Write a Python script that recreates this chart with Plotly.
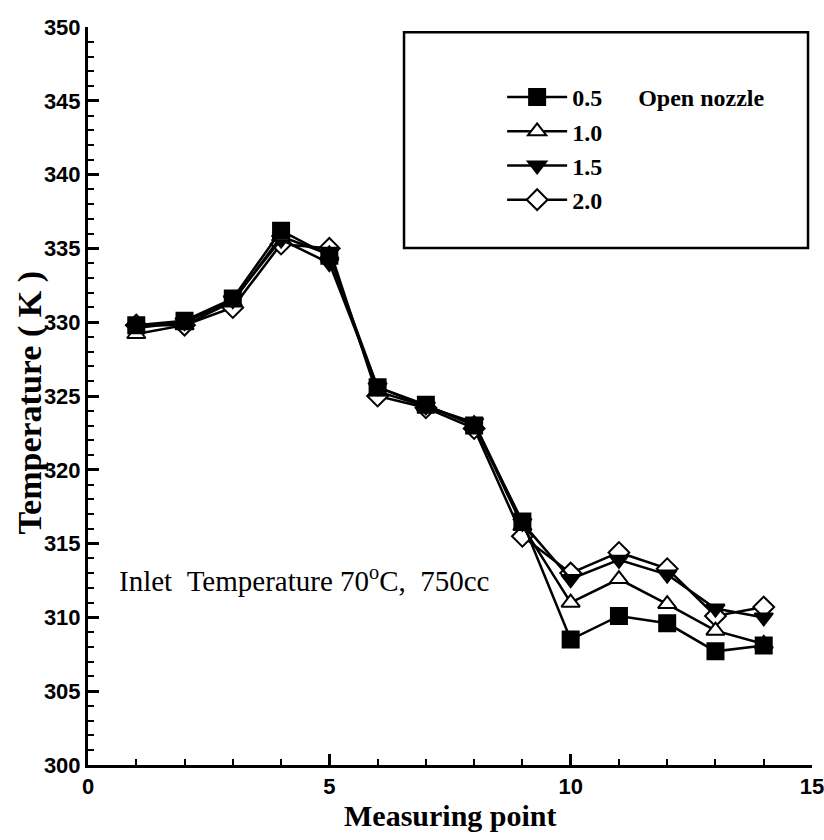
import plotly.graph_objects as go

points = list(range(1, 15))
s05 = [329.8, 330.1, 331.6, 336.2, 334.5, 325.6, 324.4, 323.0, 316.5, 308.5, 310.1, 309.6, 307.7, 308.1]
s10 = [329.2, 329.8, 331.4, 335.8, 334.6, 325.3, 324.3, 323.1, 316.2, 311.0, 312.6, 310.9, 309.1, 308.2]
s15 = [329.6, 330.0, 331.5, 335.6, 334.0, 325.6, 324.3, 323.2, 316.4, 312.6, 313.9, 312.9, 310.6, 310.0]
s20 = [329.8, 329.8, 331.0, 335.3, 335.0, 325.0, 324.2, 322.8, 315.5, 313.0, 314.4, 313.3, 310.1, 310.7]
labels = ["0.5", "1.0", "1.5", "2.0"]

series = [
    (labels[3], s20, "diamond", "white", 4),
    (labels[2], s15, "triangle-down", "black", 3),
    (labels[1], s10, "triangle-up", "white", 2),
    (labels[0], s05, "square", "black", 1),
]

fig = go.Figure()
for name, ys, sym, fill, rank in series:
    disp = name
    if name == "0.5":
        disp = "0.5&nbsp;&nbsp;&nbsp;&nbsp;&nbsp;&nbsp;Open nozzle"
    fig.add_trace(go.Scatter(
        x=points, y=ys, mode="lines+markers", name=disp,
        legendrank=rank, legendgroup=name,
        line=dict(color="black", width=2.5),
        marker=dict(symbol=sym, size=16, color=fill,
                    line=dict(color="black", width=2)),
    ))

axis_font = dict(family="Liberation Sans, Arial", size=22, color="black", weight="bold")
common = dict(showline=True, linecolor="black", linewidth=3, ticks="inside", ticklen=11,
              tickwidth=2.5, tickcolor="black", showgrid=False, zeroline=False,
              tickfont=axis_font, mirror=False, automargin=False,
              ticklabeloverflow="allow",
              minor=dict(dtick=1, ticks="inside", ticklen=6, tickwidth=2, tickcolor="black"))
fig.update_xaxes(range=[0, 15], dtick=5, tick0=0, **common)
fig.update_yaxes(range=[300, 350], dtick=5, tick0=300, **common)

fig.add_shape(type="rect", xref="paper", yref="paper",
              x0=0.4365, x1=0.9945, y0=0.7005, y1=0.993,
              line=dict(color="black", width=2.5), fillcolor="rgba(0,0,0,0)")

serif = "Liberation Serif, Times New Roman"
fig.add_annotation(text="Inlet&nbsp;&nbsp;Temperature 70<sup>o</sup>C,&nbsp;&nbsp;750cc",
                   x=0.6, y=312.6, xref="x", yref="y", xanchor="left", yanchor="middle",
                   showarrow=False, font=dict(family=serif, size=29, color="black"))
fig.add_annotation(text="<b>Temperature ( K )</b>", xref="paper", yref="paper",
                   x=-0.08, y=0.49, textangle=-90, showarrow=False,
                   xanchor="center", yanchor="middle",
                   font=dict(family=serif, size=34, color="black"))
fig.add_annotation(text="<b>Measuring point</b>", xref="paper", yref="paper",
                   x=0.5, y=-0.068, showarrow=False, xanchor="center", yanchor="middle",
                   font=dict(family=serif, size=30, color="black"))

fig.update_layout(
    width=824, height=840, autosize=False,
    margin=dict(l=88, r=12, t=27, b=75, autoexpand=False),
    paper_bgcolor="white", plot_bgcolor="white",
    showlegend=True,
    legend=dict(x=0.572, y=0.935, xanchor="left", yanchor="top",
                bgcolor="rgba(0,0,0,0)", borderwidth=0, tracegroupgap=0,
                font=dict(family=serif, size=24, color="black", weight="bold"),
                itemwidth=60),
)

fig.write_html(
    "out.html",
    config={"responsive": False},
    post_script="document.documentElement.style.overflow='hidden';"
                "document.body.style.overflow='hidden';document.body.style.margin='0';",
)
